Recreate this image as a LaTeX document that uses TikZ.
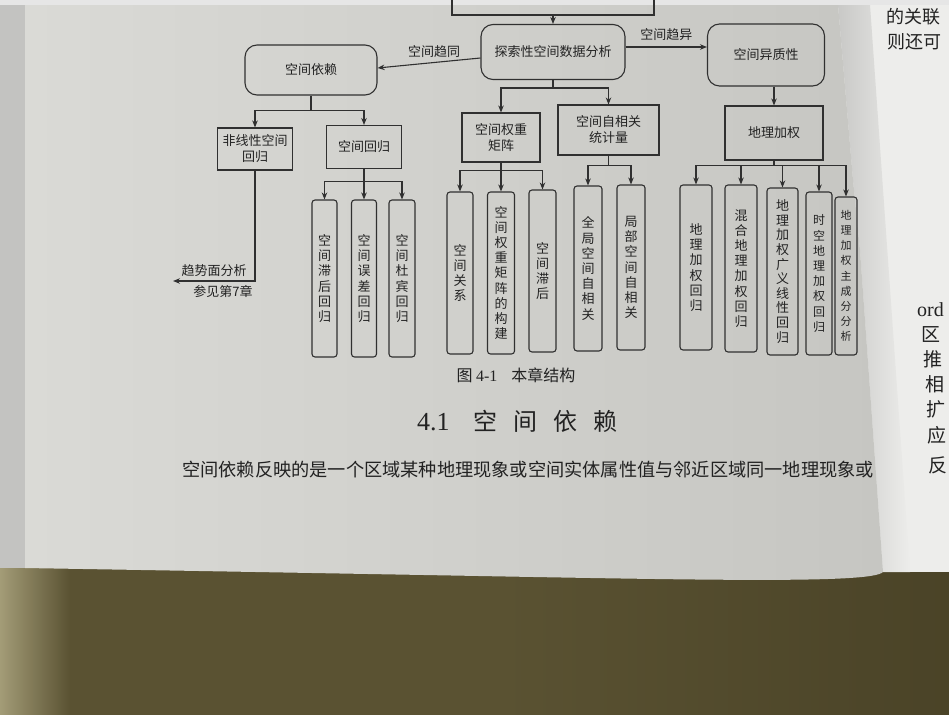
\documentclass[tikz,border=0pt]{standalone}
\usepackage{fontspec}
\setmainfont{Liberation Serif}
\newfontfamily\cjk{Noto Sans CJK SC}
\usetikzlibrary{arrows.meta}
\definecolor{linec}{HTML}{303030}
\definecolor{txtc}{HTML}{222222}
\definecolor{pageA}{HTML}{DADAD6}
\definecolor{pageB}{HTML}{D2D2CE}
\definecolor{pageC}{HTML}{C6C6C2}
\definecolor{rpage}{HTML}{EDEDEB}
\definecolor{gutter}{HTML}{C9C9C7}
\definecolor{stripc}{HTML}{C3C3C1}
\definecolor{topc}{HTML}{E6E6E6}
\definecolor{deskA}{HTML}{A8A17C}
\definecolor{deskB}{HTML}{5A5232}
\definecolor{deskC}{HTML}{4A4327}
\begin{document}
\begin{tikzpicture}[x=1pt,y=-1pt,
  ln/.style={draw=linec,line width=1.1pt},
  arr/.style={ln,-{Stealth[length=7pt,width=5.5pt]}},
  bx/.style={draw=linec,line width=1.1pt,text=txtc,align=center,inner sep=0pt,font=\cjk\fontsize{13}{16}\selectfont},
  rbox/.style={bx,rounded corners=12pt},
  vbox/.style={bx,rounded corners=3pt,font=\cjk\fontsize{13}{15.2}\selectfont},
  sz/.style 2 args={minimum width=#1pt,minimum height=#2pt},
  lbl/.style={text=txtc,font=\cjk\fontsize{13}{15}\selectfont,inner sep=0pt},
  rtxt/.style={text=txtc,inner sep=0pt,anchor=west,font=\cjk\fontsize{19}{19}\selectfont},
]
\useasboundingbox (0,0) rectangle (949,714);
\clip (0,0) rectangle (949,714);
% ---- background: desk, pages ----
\fill[deskB] (-5,525) rectangle (955,720);
\shade[left color=deskA,right color=deskB] (-5,525) rectangle (70,720);
\shade[left color=deskB,right color=deskC] (500,525) rectangle (955,720);
\fill[stripc] (0,0) rectangle (25,568);
\fill[rpage] (830,0) rectangle (955,572);
\shade[left color=gutter,right color=rpage] (838,5) -- (870,5) -- (910,572) -- (883,572) -- (860,250) -- (853,180) -- cycle;
\shade[left color=pageA,middle color=pageB,right color=pageC]
  (25,5) -- (838,5) -- (853,180) -- (860,250) -- (883,572)
  .. controls (872,584) and (700,580) .. (424,575)
  .. controls (200,571) .. (25,568) -- cycle;
\fill[topc] (0,0) rectangle (955,5);
% ---- right page text ----
\node[rtxt,font=\cjk\fontsize{18}{18}\selectfont] (r1) at (886,17) {的关联};
\node[rtxt,font=\cjk\fontsize{18}{18}\selectfont] (r2) at (887,42) {则还可};
\node[rtxt,font=\fontsize{20}{20}\selectfont] (r3) at (917,310) {ord};
\node[rtxt] (r4) at (921,335) {区};
\node[rtxt] (r5) at (923,359) {推};
\node[rtxt] (r6) at (925,384) {相};
\node[rtxt] (r7) at (926,409) {扩};
\node[rtxt] (r8) at (927,435) {应};
\node[rtxt] (r9) at (928,465) {反};
% ---- diagram nodes ----
\node[bx,sz={202}{50}] (topb) at (553,-10) {};
\node[rbox,sz={144}{55}] (eda) at (553,52) {探索性空间数据分析};
\node[rbox,sz={132}{50}] (dep) at (311,70) {空间依赖};
\node[rbox,sz={117}{62}] (het) at (766,55) {空间异质性};
\node[bx,sz={98}{54}] (gw) at (774,133) {地理加权};
\node[bx,sz={75}{42}] (nl) at (255,149) {非线性空间\\回归};
\node[bx,sz={75}{43}] (sr) at (364,147) {空间回归};
\node[bx,sz={78}{49}] (wm) at (501,137.5) {空间权重\\矩阵};
\node[bx,sz={101}{50}] (ac) at (608.5,130) {空间自相关\\统计量};
\node[vbox,sz={25}{157}] (v1) at (324.5,278.5) {空\\间\\滞\\后\\回\\归};
\node[vbox,sz={25}{157}] (v2) at (364,278.5) {空\\间\\误\\差\\回\\归};
\node[vbox,sz={26}{157}] (v3) at (402,278.5) {空\\间\\杜\\宾\\回\\归};
\node[vbox,sz={26}{162}] (m1) at (460,273) {空\\间\\关\\系};
\node[vbox,sz={27}{162}] (m2) at (501,273) {空\\间\\权\\重\\矩\\阵\\的\\构\\建};
\node[vbox,sz={27}{162}] (m3) at (542.5,271) {空\\间\\滞\\后};
\node[vbox,sz={28}{165}] (a1) at (588,268.5) {全\\局\\空\\间\\自\\相\\关};
\node[vbox,sz={28}{165}] (a2) at (631,267.5) {局\\部\\空\\间\\自\\相\\关};
\node[vbox,sz={32}{165}] (g1) at (696,267.5) {地\\理\\加\\权\\回\\归};
\node[vbox,sz={32}{167}] (g2) at (741,268.5) {混\\合\\地\\理\\加\\权\\回\\归};
\node[vbox,sz={31}{167},font=\cjk\fontsize{13}{14.6}\selectfont] (g3) at (782.5,271.5) {地\\理\\加\\权\\广\\义\\线\\性\\回\\归};
\node[vbox,sz={26}{163},font=\cjk\fontsize{12}{15.2}\selectfont] (g4) at (819,273.5) {时\\空\\地\\理\\加\\权\\回\\归};
\node[vbox,sz={22}{158},font=\cjk\fontsize{11}{15.2}\selectfont] (g5) at (846,276) {地\\理\\加\\权\\主\\成\\分\\分\\析};
% ---- connectors ----
\draw[arr] (topb.south) -- (eda.north);
\draw[arr] ([yshift=-6pt]eda.west) -- node[lbl,pos=0.45,above=4pt]{空间趋同} ([yshift=2pt]dep.east);
\draw[arr] ([yshift=5pt]eda.east) -- node[lbl,midway,above=6pt]{空间趋异} ([yshift=5pt]eda.east -| het.west);
\draw[arr] (het.south -| gw.north) -- (gw.north);
\draw[ln] (dep.south) -- ++(0,15) coordinate (j1);
\draw[arr] (j1) -| (nl.north);
\draw[arr] (j1) -| (sr.north);
\coordinate (trend) at (173,281);
\draw[arr] (nl.south) |- node[lbl,pos=0.75,above=4pt]{趋势面分析} node[lbl,pos=0.695,below=4pt]{参见第7章} (trend);
\draw[ln] (sr.south) -- ++(0,12) coordinate (j2);
\draw[arr] (j2) -| (v1.north);
\draw[arr] (j2) -| (v2.north);
\draw[arr] (j2) -| (v3.north);
\draw[ln] (eda.south) -- ++(0,8) coordinate (j3);
\draw[arr] (j3) -| (wm.north);
\draw[arr] (j3) -| (ac.north);
\draw[ln] (wm.south) -- ++(0,8) coordinate (j4);
\draw[arr] (j4) -| (m1.north);
\draw[arr] (j4) -| (m2.north);
\draw[arr] (j4) -| (m3.north);
\draw[ln] (ac.south) -- ++(0,10) coordinate (j5);
\draw[arr] (j5) -| (a1.north);
\draw[arr] (j5) -| (a2.north);
\draw[ln] (gw.south) -- ++(0,5) coordinate (j6);
\draw[arr] (j6) -| (g1.north);
\draw[arr] (j6) -| (g2.north);
\draw[arr] (j6) -| (g3.north);
\draw[arr] (j6) -| (g4.north);
\draw[arr] (j6) -| (g5.north);
% ---- caption, heading, body ----
\node[text=txtc,inner sep=0pt,font=\cjk\fontsize{16}{16}\selectfont] (cap) at (516,375) {图 {\rmfamily 4-1}\hspace{14pt}本章结构};
\node[text=txtc,inner sep=0pt,anchor=west] (head) at (417,421) {\fontsize{26}{26}\selectfont 4.1\hspace{24pt}{\cjk\fontsize{24}{24}\selectfont 空\hspace{16pt}间\hspace{16pt}依\hspace{16pt}赖}};
\begin{scope}
\clip (25,5) -- (838,5) -- (853,180) -- (860,250) -- (883,572) -- (25,572) -- cycle;
\node[text=txtc,inner sep=0pt,anchor=west,font=\cjk\fontsize{18.2}{20}\selectfont] (para) at (182,470) {空间依赖反映的是一个区域某种地理现象或空间实体属性值与邻近区域同一地理现象或};
\end{scope}
\end{tikzpicture}
\end{document}
